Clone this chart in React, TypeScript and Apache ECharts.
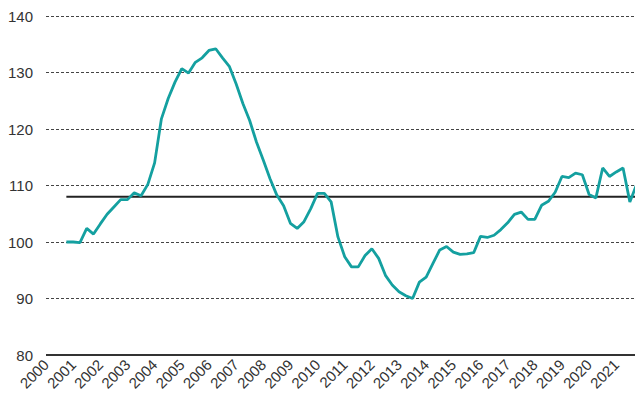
import React, { useEffect, useRef } from "react";
import * as echarts from "echarts";

// Quarterly index values, starting Q4 2000
const startYear = 2000.75;
const step = 0.25;
const indexValues = [
  100.0, 100.0, 99.9, 102.4, 101.4, 103.2, 104.9, 106.2, 107.5, 107.5,
  108.7, 108.2, 110.2, 114.0, 121.8, 125.4, 128.3, 130.7, 129.9, 131.8,
  132.6, 133.9, 134.2, 132.6, 131.1, 128.0, 124.5, 121.5, 117.7, 114.5,
  111.2, 108.3, 106.4, 103.3, 102.4, 103.6, 105.9, 108.6, 108.6, 107.1,
  100.9, 97.4, 95.6, 95.6, 97.6, 98.8, 97.1, 94.1, 92.4, 91.2,
  90.5, 90.0, 92.9, 93.8, 96.2, 98.6, 99.2, 98.2, 97.8, 97.9,
  98.1, 101.0, 100.8, 101.2, 102.2, 103.4, 104.9, 105.3, 104.0, 104.0,
  106.5, 107.2, 108.8, 111.6, 111.4, 112.2, 111.9, 108.4, 107.8, 113.1,
  111.6, 112.4, 113.1, 107.1, 110.2,
];
const averageLevel = 108.0;
const yTicks = [80, 90, 100, 110, 120, 130, 140];
const yearLabels = Array.from({ length: 22 }, (_, i) => 2000 + i);

export default function App() {
  const ref = useRef<HTMLDivElement>(null);
  useEffect(() => {
    if (!ref.current) return;
    const chart = echarts.init(ref.current, null, { renderer: "svg" });
    const times = indexValues.map((_, i) => startYear + i * step);
    const seriesData = indexValues.map((v, i) => [times[i], v]);
    const avgData = [
      [times[0], averageLevel],
      [times[times.length - 1], averageLevel],
    ];
    const font = "Liberation Sans, Arial, sans-serif";
    chart.setOption({
      animation: false,
      grid: { left: 46, right: 0, top: 16, bottom: 45, containLabel: false, outerBoundsMode: "none" },
      xAxis: {
        type: "value",
        min: yearLabels[0],
        max: 2021.69,
        interval: 1,
        axisLine: { show: false },
        axisTick: { show: false },
        splitLine: { show: false },
        axisLabel: {
          rotate: 45,
          margin: 7,
          fontSize: 15,
          color: "#333",
          fontFamily: font,
          showMaxLabel: false,
          formatter: (v: number) => (Number.isInteger(v) && yearLabels.includes(v) ? String(v) : ""),
        },
      },
      yAxis: {
        type: "value",
        min: yTicks[0],
        max: yTicks[yTicks.length - 1],
        interval: 10,
        axisLine: { show: false },
        axisTick: { show: false },
        axisLabel: { fontSize: 15, color: "#333", fontFamily: font, margin: 13 },
        splitLine: {
          show: true,
          lineStyle: { type: [3, 2], color: "#444", width: 1 },
        },
      },
      series: [
        {
          type: "line",
          data: avgData,
          symbol: "none",
          lineStyle: { color: "#222", width: 2 },
          silent: true,
          z: 2,
        },
        {
          type: "line",
          data: seriesData,
          symbol: "none",
          lineStyle: { color: "#14a0a0", width: 2.8 },
          z: 3,
          markLine: {
            silent: true,
            symbol: "none",
            label: { show: false },
            lineStyle: { color: "#333", width: 2, type: "solid" },
            data: [{ yAxis: yTicks[0] }],
          },
        },
      ],
    });
    return () => chart.dispose();
  }, []);
  return (
    <div
      ref={ref}
      style={{ position: "fixed", left: 0, top: 0, width: 635, height: 400, background: "#fff" }}
    />
  );
}
